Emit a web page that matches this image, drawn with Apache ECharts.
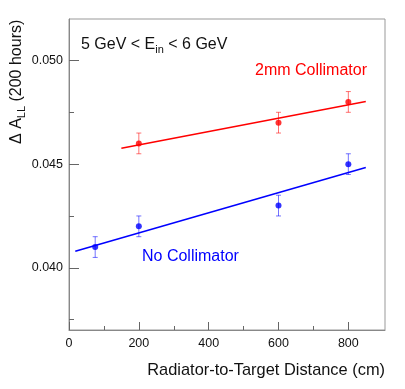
<!DOCTYPE html>
<html>
<head>
<meta charset="utf-8">
<script src="https://cdn.jsdelivr.net/npm/echarts@6/dist/echarts.min.js"></script>
<style>
  html, body { margin: 0; padding: 0; background: #fff; }
  #chart { width: 405px; height: 389px; }
</style>
</head>
<body>
<div id="chart"></div>
<script>
// measured points, error is +/- 0.0005 on each
var xCollim = [200, 600, 800],
    yCollim = [0.046, 0.047, 0.048],
    eCollim = [0.0005, 0.0005, 0.0005];
var xNoCollim = [75, 200, 600, 800],
    yNoCollim = [0.041, 0.042, 0.043, 0.045],
    eNoCollim = [0.0005, 0.0005, 0.0005, 0.0005];
// straight line fits, end points
var fitCollim = [[150, 0.04577], [850, 0.04802]],
    fitNoCollim = [[18, 0.04080], [850, 0.04484]];
// ticks
var xMajor = [0, 200, 400, 600, 800],
    xMinor = [100, 300, 500, 700],
    yMajor = [0.040, 0.045, 0.050],
    yMinor = [0.0375, 0.0425, 0.0475];

var FONT = "Liberation Sans, Arial, Helvetica, sans-serif";
var RED = "#ff0000", BLUE = "#0000ff";

function pairs(xs, ys) {
    return xs.map(function(x, i) { return [x, ys[i]]; });
}

function errData(xs, ys, es) {
    return xs.map(function(x, i) { return [x, ys[i] - es[i], ys[i] + es[i]]; });
}

function errBars(color) {
    return function(params, api) {
        var lo = api.coord([api.value(0), api.value(1)]),
            hi = api.coord([api.value(0), api.value(2)]),
            w = 2.5,
            st = { stroke: color, lineWidth: 1 };
        return {
            type: "group",
            children: [
                { type: "line", shape: { x1: lo[0], y1: lo[1], x2: hi[0], y2: hi[1] }, style: st },
                { type: "line", shape: { x1: lo[0] - w, y1: lo[1], x2: lo[0] + w, y2: lo[1] }, style: st },
                { type: "line", shape: { x1: hi[0] - w, y1: hi[1], x2: hi[0] + w, y2: hi[1] }, style: st }
            ]
        };
    };
}

function xAx(ticks, len, labels) {
    return {
        type: "value", min: 0, max: 905, position: "bottom",
        axisLine: { show: labels, lineStyle: { color: "#888", width: 1 } },
        axisTick: { show: true, inside: true, length: len, customValues: ticks, lineStyle: { color: "#666" } },
        axisLabel: { show: labels, customValues: ticks, color: "#111", fontFamily: FONT, fontSize: 12.5, margin: 7 },
        splitLine: { show: false }
    };
}

function yAx(ticks, len, labels) {
    return {
        type: "value", min: 0.037, max: 0.052, position: "left",
        axisLine: { show: labels, lineStyle: { color: "#888", width: 1 } },
        axisTick: { show: true, inside: true, length: len, customValues: ticks, lineStyle: { color: "#666" } },
        axisLabel: {
            show: labels, customValues: ticks, color: "#111", fontFamily: FONT, fontSize: 12.5, margin: 6,
            formatter: function(v) { return v.toFixed(3); }
        },
        splitLine: { show: false }
    };
}

var chart = echarts.init(document.getElementById("chart"), null, { renderer: "canvas" });
chart.setOption({
    animation: false,
    backgroundColor: "#fff",
    grid: { left: 69, top: 19, right: 20, bottom: 59, show: true, borderColor: "#999", borderWidth: 1 },
    xAxis: [xAx(xMajor, 8, true), xAx(xMinor, 4, false)],
    yAxis: [yAx(yMajor, 10, true), yAx(yMinor, 5, false)],
    series: [
        { type: "line", data: fitCollim, showSymbol: false, lineStyle: { color: RED, width: 1.5 }, z: 2 },
        { type: "line", data: fitNoCollim, showSymbol: false, lineStyle: { color: BLUE, width: 1.5 }, z: 2 },
        { type: "custom", data: errData(xCollim, yCollim, eCollim), renderItem: errBars("rgba(255,0,0,0.55)"), z: 3 },
        { type: "custom", data: errData(xNoCollim, yNoCollim, eNoCollim), renderItem: errBars("rgba(0,0,255,0.55)"), z: 3 },
        { type: "scatter", data: pairs(xCollim, yCollim), symbolSize: 6, itemStyle: { color: RED }, z: 4 },
        { type: "scatter", data: pairs(xNoCollim, yNoCollim), symbolSize: 6, itemStyle: { color: BLUE }, z: 4 }
    ],
    graphic: [
        {
            type: "text", left: 81, top: 37,
            style: {
                text: "{a|5 GeV < E}{s|in}{a| < 6 GeV}",
                fill: "#111",
                rich: {
                    a: { fontFamily: FONT, fontSize: 16, fill: "#111" },
                    s: { fontFamily: FONT, fontSize: 11, fill: "#111", padding: [9, 0, 0, 0] }
                }
            }
        },
        {
            type: "text", left: 255, top: 63,
            style: { text: "2mm Collimator", fill: RED, font: "16px " + FONT }
        },
        {
            type: "text", left: 142, top: 249,
            style: { text: "No Collimator", fill: BLUE, font: "16px " + FONT }
        },
        {
            type: "text", right: 20, top: 362,
            style: { text: "Radiator-to-Target Distance (cm)", fill: "#111", font: "16.4px " + FONT }
        },
        {
            type: "text", x: 7, y: 144, rotation: Math.PI / 2,
            style: {
                text: "{a|Δ A}{s|LL}{a| (200 hours)}",
                fill: "#111",
                rich: {
                    a: { fontFamily: FONT, fontSize: 16, fill: "#111" },
                    s: { fontFamily: FONT, fontSize: 11, fill: "#111", padding: [9, 0, 0, 0] }
                }
            }
        }
    ]
});
</script>
</body>
</html>
